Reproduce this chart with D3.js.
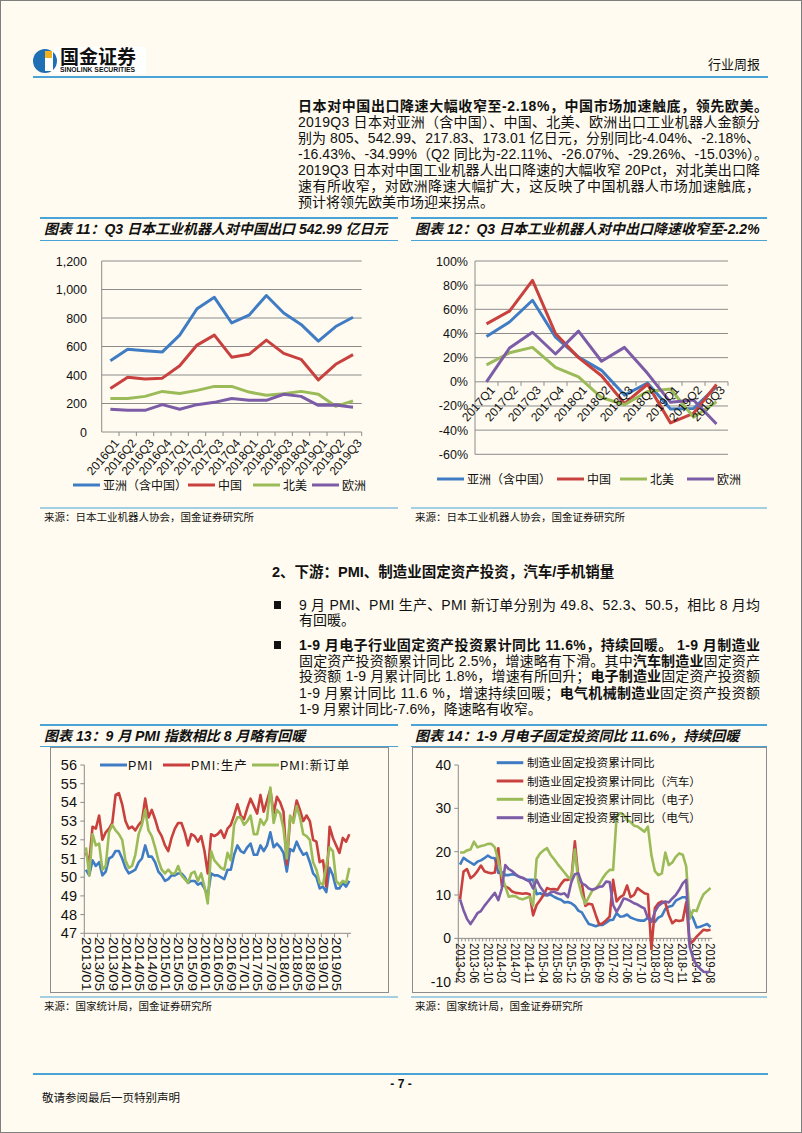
<!DOCTYPE html>
<html><head><meta charset="utf-8">
<script src="https://cdn.jsdelivr.net/npm/d3@7"></script>
<style>
body{margin:0;background:#fffbf0;}
svg{display:block;}
text{font-family:"Liberation Sans","Noto Sans CJK SC",sans-serif;fill:#111;}
.num{font-family:"Liberation Sans Narrow","Liberation Sans","Noto Sans CJK SC",sans-serif;}
</style></head><body>
<svg id="page" width="802" height="1133"></svg>
<script>
// ---------------- DATA ----------------
const quarters11 = ["2016Q1","2016Q2","2016Q3","2016Q4","2017Q1","2017Q2","2017Q3","2017Q4","2018Q1","2018Q2","2018Q3","2018Q4","2019Q1","2019Q2","2019Q3"];
const asia11   = [500,580,570,562,680,865,945,765,820,958,835,755,638,740,805];
const china11  = [305,385,372,378,465,610,680,525,545,645,552,510,365,475,543];
const na11     = [235,235,250,285,270,292,320,320,280,258,268,285,265,180,218];
const europe11 = [160,152,152,192,160,192,208,235,222,222,265,250,187,190,173];
const yTicks11 = [0,200,400,600,800,1000,1200];
const yTickLabels11 = ["0","200","400","600","800","1,000","1,200"];

const quarters12 = ["2017Q1","2017Q2","2017Q3","2017Q4","2018Q1","2018Q2","2018Q3","2018Q4","2019Q1","2019Q2","2019Q3"];
const asia12   = [37.5,49.5,67.5,37,20.5,9.5,-11,-1,-22.5,-22.1,-4.04];
const china12  = [48,58.5,84,40,20,5,-18,-2,-34,-26.07,-2.18];
const na12     = [14,24,28.5,12,4,-13,-19,-8,-6,-29.26,-16.43];
const europe12 = [0,28,41,23,42,17,28.5,7,-17,-15.03,-34.99];
const yTicks12 = [-60,-40,-20,0,20,40,60,80,100];
const yTickLabels12 = ["-60%","-40%","-20%","0%","20%","40%","60%","80%","100%"];
const legendNames = ["亚洲（含中国）","中国","北美","欧洲"];

// PMI monthly 2013/01 - 2019/09
const pmi13 = [50.4,50.1,50.9,50.6,50.8,50.1,50.3,51.0,51.1,51.4,51.4,51.0,
 50.5,50.2,50.3,50.4,50.8,51.0,51.7,51.1,51.1,50.8,50.3,50.1,
 49.8,49.9,50.1,50.1,50.2,50.2,50.0,49.7,49.8,49.8,49.6,49.7,
 49.4,49.0,50.2,50.1,50.1,50.0,49.9,50.4,50.4,51.2,51.7,51.4,
 51.3,51.6,51.8,51.2,51.2,51.7,51.4,51.7,52.4,51.6,51.8,51.6,
 51.3,50.3,51.5,51.4,51.9,51.5,51.2,51.3,50.8,50.2,50.0,49.4,
 49.5,49.2,50.5,50.1,49.4,49.4,49.7,49.5,49.8];
const prod13 = [51.3,50.8,52.7,52.6,53.3,52.0,52.4,52.6,52.9,54.4,54.5,53.9,
 53.0,52.6,52.7,52.5,52.8,53.0,54.2,53.2,53.6,53.1,52.5,52.2,
 51.7,51.4,52.1,52.6,52.9,52.9,52.4,51.7,52.3,52.2,51.9,52.2,
 51.4,50.2,52.3,52.2,52.3,52.5,52.1,52.6,52.8,53.3,53.9,53.3,
 53.1,53.7,54.2,53.8,53.4,54.4,53.5,54.1,54.7,53.4,54.3,54.0,
 53.5,50.7,53.1,53.1,54.1,53.6,53.0,53.3,53.0,52.0,51.9,50.8,
 50.9,49.5,52.7,52.1,51.7,51.3,52.1,51.9,52.3];
const order13 = [51.6,50.1,52.3,51.7,51.8,50.4,50.6,52.4,52.8,52.5,52.3,52.0,
 50.9,50.5,50.6,51.2,52.3,52.8,53.6,52.5,52.2,51.6,50.9,50.4,
 50.2,50.4,50.2,50.2,50.6,50.1,49.9,49.7,50.2,50.3,49.8,50.2,
 49.5,48.6,51.4,50.9,50.7,50.5,50.4,51.3,50.9,52.8,53.2,53.2,
 52.8,53.0,53.3,52.3,52.3,53.1,52.8,53.1,54.8,52.9,53.6,53.4,
 52.6,51.0,53.3,52.9,53.8,53.2,52.3,52.2,52.0,50.8,50.4,49.7,
 49.6,50.6,51.6,51.4,49.8,49.6,49.8,49.7,50.5];
const yTicks13 = [47,48,49,50,51,52,53,54,55,56];
const xTickLabels13 = ["2013/01","2013/05","2013/09","2014/01","2014/05","2014/09","2015/01","2015/05","2015/09","2016/01","2016/05","2016/09","2017/01","2017/05","2017/09","2018/01","2018/05","2018/09","2019/01","2019/05"];
const legend13 = ["PMI","PMI:生产","PMI:新订单"];

// Fixed-asset investment YTD yoy, 2013-02 .. 2019-08 (no January)
const mfg14 = [17.0,18.6,18.0,17.5,17.0,17.7,18.0,18.5,19.1,18.6,18.5,
 15.1,15.3,14.6,14.6,14.8,14.6,14.2,13.9,13.6,13.5,13.5,
 10.2,10.4,10.0,9.9,10.1,9.6,9.2,8.9,8.3,8.4,8.1,
 7.5,6.4,6.0,4.6,3.3,3.1,2.8,3.1,3.1,3.6,4.2,
 4.3,5.8,5.0,5.1,5.5,4.8,4.5,4.2,4.1,4.1,4.8,
 4.3,3.8,4.8,5.2,6.8,7.3,7.5,8.7,9.1,9.5,9.5,
 5.9,4.6,2.5,2.7,3.0,3.3,2.6];
const auto14 = [9.0,15.4,16.0,13.9,14.5,15.5,16.8,15.5,15.2,15.0,15.2,
 20.8,12.3,12.0,11.6,10.8,10.5,10.4,10.3,10.4,10.2,5.3,
 7.7,8.8,10.0,11.6,11.3,11.4,11.2,12.5,13.5,13.5,13.8,
 22.4,14.0,12.8,7.5,8.0,7.8,5.4,3.2,3.5,4.2,5.0,
 13.5,8.5,9.5,10.0,12.2,9.5,10.0,11.6,11.0,10.4,10.2,
 -2.5,7.0,8.1,8.5,8.2,5.4,3.5,4.2,4.0,4.2,8.3,
 -1.3,-0.6,0.4,1.2,2.0,1.8,2.0];
const elec14 = [19.8,19.8,20.3,20.5,22.3,21.0,21.3,21.5,21.8,21.8,21.0,
 18.0,14.5,12.0,9.6,9.8,9.7,9.2,9.0,9.3,9.6,7.5,
 18.3,19.6,20.3,20.8,19.3,18.3,17.2,16.2,15.2,14.2,13.5,
 20.5,13.1,10.0,8.0,9.5,11.0,11.5,12.5,13.9,15.0,15.8,
 15.8,28.1,28.9,28.5,27.3,26.9,26.0,25.8,25.2,24.6,25.8,
 19.2,15.5,14.6,15.0,19.8,16.9,17.5,18.8,19.6,19.3,16.6,
 4.5,6.5,6.3,8.5,10.2,10.9,11.6];
const elecm14 = [9.0,6.5,4.5,3.3,4.5,5.8,6.3,7.5,8.5,9.5,10.5,
 8.8,11.5,16.9,16.0,15.5,14.8,14.2,14.0,13.5,13.1,11.5,
 13.5,11.9,10.8,10.0,10.6,10.8,10.4,10.2,10.4,9.5,13.0,
 14.8,15.0,12.7,12.3,11.5,11.2,11.5,11.9,12.0,13.1,13.0,
 7.7,6.1,7.5,9.2,9.0,8.6,8.1,7.8,7.3,6.9,4.6,
 3.8,6.1,7.5,8.1,8.5,8.3,9.2,10.0,11.2,12.7,13.5,
 -1.9,-4.6,-6.2,-7.0,-7.7,-7.8,-7.6];
const yTicks14 = [-10,0,10,20,30,40];
const xTickLabels14 = ["2013-02","2013-06","2013-10","2014-03","2014-07","2014-11","2015-04","2015-08","2015-12","2016-05","2016-09","2017-02","2017-06","2017-10","2018-03","2018-07","2018-11","2019-04","2019-08"];
const legend14 = ["制造业固定投资累计同比","制造业固定投资累计同比（汽车）","制造业固定投资累计同比（电子）","制造业固定投资累计同比（电气）"];

// category builders
const months13 = [];
for (let y = 2013; y <= 2019; y++) for (let m = 1; m <= 12; m++) { if (y === 2019 && m > 9) break; months13.push(y + "/" + String(m).padStart(2,"0")); }
const months14 = [];
for (let y = 2013; y <= 2019; y++) for (let m = 2; m <= 12; m++) { if (y === 2019 && m > 8) break; months14.push(y + "-" + String(m).padStart(2,"0")); }

// ---------------- STYLE ----------------
const C = {blue:"#3f7cc4", red:"#c8413e", green:"#9bbb59", purple:"#7c5ca6", rule:"#4aa3d6", grid:"#8c8c8c", axis:"#8c8c8c"};
const colors4 = [C.blue, C.red, C.green, C.purple];

const svg = d3.select("#page");
svg.append("rect").attr("x",0.5).attr("y",0.5).attr("width",801).attr("height",1132).attr("fill","#fffbf0").attr("stroke","#7f7f7f");

// ---------------- HEADER ----------------
svg.append("rect").attr("x",54).attr("y",47).attr("width",92).attr("height",27).attr("fill","#fff");
svg.append("circle").attr("cx",45).attr("cy",61).attr("r",12).attr("fill","#1f6fb5");
svg.append("rect").attr("x",45).attr("y",51).attr("width",8).attr("height",20).attr("fill","#fff");
svg.append("rect").attr("x",45).attr("y",51).attr("width",7).attr("height",7).attr("fill","#f2b01e");
svg.append("text").attr("x",60).attr("y",64).attr("font-size",19).attr("font-weight","bold").attr("fill","#1a1a1a").text("国金证券");
svg.append("text").attr("x",60).attr("y",72).attr("font-size",6.8).attr("font-weight","bold").attr("fill","#1a1a1a").text("SINOLINK SECURITIES");
svg.append("text").attr("x",760).attr("y",69).attr("font-size",13).attr("text-anchor","end").attr("fill","#333").text("行业周报");
svg.append("line").attr("x1",33).attr("x2",768).attr("y1",77).attr("y2",77).attr("stroke",C.rule).attr("stroke-width",2);

// ---------------- TEXT HELPERS ----------------
function textLine(x, y, segs, opt) {
  opt = opt || {};
  const t = svg.append("text").attr("x",x).attr("y",y).attr("font-size",opt.size||14);
  segs.forEach(s => {
    const sp = t.append("tspan").text(s[0]);
    if (s[1]) sp.attr("font-weight","bold");
  });
  if (opt.width) t.attr("textLength",opt.width).attr("lengthAdjust","spacing");
  return t;
}

// paragraph
const pX = 298, pW = 462;
textLine(pX,111,[["日本对中国出口降速大幅收窄至-2.18%，中国市场加速触底，领先欧美。",true]],{width:470});
textLine(pX,127,[["2019Q3 日本对亚洲（含中国）、中国、北美、欧洲出口工业机器人金额分"]],{width:pW});
textLine(pX,143,[["别为 805、542.99、217.83、173.01 亿日元，分别同比-4.04%、-2.18%、"]],{width:pW});
textLine(pX,159,[["-16.43%、-34.99%（Q2 同比为-22.11%、-26.07%、-29.26%、-15.03%）。"]],{width:470});
textLine(pX,175,[["2019Q3 日本对中国工业机器人出口降速的大幅收窄 20Pct，对北美出口降"]],{width:pW});
textLine(pX,191,[["速有所收窄，对欧洲降速大幅扩大，这反映了中国机器人市场加速触底，"]],{width:pW});
textLine(pX,207,[["预计将领先欧美市场迎来拐点。"]]);

// section heading & bullets
textLine(272,577,[["2、下游：PMI、制造业固定资产投资，汽车/手机销量",true]],{size:14.5});
svg.append("rect").attr("x",274).attr("y",601).attr("width",7).attr("height",8).attr("fill","#111");
textLine(299,610,[["9 月 PMI、PMI 生产、PMI 新订单分别为 49.8、52.3、50.5，相比 8 月均"]],{width:461});
textLine(299,625,[["有回暖。"]]);
svg.append("rect").attr("x",274).attr("y",641).attr("width",7).attr("height",8).attr("fill","#111");
textLine(299,650,[["1-9 月电子行业固定资产投资累计同比 11.6%，持续回暖。 1-9 月制造业",true]],{width:461});
textLine(299,665.5,[["固定资产投资额累计同比 2.5%，增速略有下滑。其中"],["汽车制造业",true],["固定资产"]],{width:461});
textLine(299,681,[["投资额 1-9 月累计同比 1.8%，增速有所回升；"],["电子制造业",true],["固定资产投资额"]],{width:461});
textLine(299,697.5,[["1-9 月累计同比 11.6 %，增速持续回暖；"],["电气机械制造业",true],["固定资产投资额"]],{width:461});
textLine(299,714,[["1-9 月累计同比-7.6%，降速略有收窄。"]]);

// ---------------- CHART FRAMES ----------------
function titleBar(x1, x2, yTop, yBot, title) {
  svg.append("line").attr("x1",x1).attr("x2",x2).attr("y1",yTop).attr("y2",yTop).attr("stroke",C.rule).attr("stroke-width",2);
  svg.append("line").attr("x1",x1).attr("x2",x2).attr("y1",yBot).attr("y2",yBot).attr("stroke",C.rule).attr("stroke-width",1.2);
  svg.append("text").attr("x",x1+4).attr("y",yTop+16).attr("font-size",14).attr("font-weight","bold").attr("font-style","italic").text(title);
}
function source(x1, x2, y, txt) {
  svg.append("line").attr("x1",x1).attr("x2",x2).attr("y1",y).attr("y2",y).attr("stroke",C.rule).attr("stroke-width",1.2);
  svg.append("text").attr("x",x1+4).attr("y",y+13).attr("font-size",10.5).attr("fill","#333").text(txt);
}
titleBar(40,398,218,240.5,"图表 11：Q3 日本工业机器人对中国出口 542.99 亿日元");
titleBar(411,767,218,240.5,"图表 12：Q3 日本工业机器人对中出口降速收窄至-2.2%");
source(40,398,508,"来源：日本工业机器人协会，国金证券研究所");
source(411,767,508,"来源：日本工业机器人协会，国金证券研究所");
titleBar(40,398,725,746.5,"图表 13：9 月 PMI 指数相比 8 月略有回暖");
titleBar(411,767,725,746.5,"图表 14：1-9 月电子固定投资同比 11.6%，持续回暖");
source(40,398,997,"来源：国家统计局，国金证券研究所");
source(411,767,997,"来源：国家统计局，国金证券研究所");
svg.append("rect").attr("x",50.5).attr("y",747.5).attr("width",338).attr("height",245).attr("fill","none").attr("stroke","#8c8c8c");
svg.append("rect").attr("x",412.5).attr("y",747.5).attr("width",354).attr("height",245).attr("fill","none").attr("stroke","#8c8c8c");

function drawLines(g, x, y, cats, seriesList, cols, w) {
  seriesList.forEach((vals, i) => {
    const line = d3.line().x((d, j) => x(cats[j]) + x.bandwidth()/2).y(d => y(d));
    g.append("path").datum(vals).attr("d", line).attr("fill","none").attr("stroke", cols[i]).attr("stroke-width", w).attr("stroke-linejoin","round");
  });
}

// ---------------- CHART 11 ----------------
(function(){
  const g = svg.append("g");
  const x = d3.scaleBand().domain(quarters11).range([101.7, 361.7]);
  const y = d3.scaleLinear().domain([0,1200]).range([432,261]);
  yTicks11.forEach(v => { if (v>0) g.append("line").attr("x1",101.7).attr("x2",361.7).attr("y1",y(v)).attr("y2",y(v)).attr("stroke",C.grid).attr("stroke-width",1); });
  g.append("line").attr("x1",101.7).attr("x2",101.7).attr("y1",261).attr("y2",432).attr("stroke",C.axis);
  g.append("line").attr("x1",101.7).attr("x2",361.7).attr("y1",432).attr("y2",432).attr("stroke",C.axis);
  quarters11.forEach((q,i)=>{ const xx = x(q)+x.bandwidth(); g.append("line").attr("x1",xx).attr("x2",xx).attr("y1",432).attr("y2",436).attr("stroke",C.axis); });
  yTicks11.forEach((v,i) => g.append("text").attr("class","num").attr("x",87).attr("y",y(v)+4.5).attr("font-size",12.5).attr("text-anchor","end").text(yTickLabels11[i]));
  quarters11.forEach(q => {
    const cx = x(q)+x.bandwidth()/2+3, cy = 438;
    g.append("text").attr("class","num").attr("transform",`translate(${cx},${cy}) rotate(-50)`).attr("text-anchor","end").attr("dy","0.7em").attr("font-size",12).text(q);
  });
  drawLines(g, x, y, quarters11, [asia11, china11, na11, europe11], colors4, 3);
  const lx = [73,188,253,312];
  legendNames.forEach((n,i)=>{
    g.append("line").attr("x1",lx[i]).attr("x2",lx[i]+27).attr("y1",485).attr("y2",485).attr("stroke",colors4[i]).attr("stroke-width",3);
    g.append("text").attr("x",lx[i]+30).attr("y",489.5).attr("font-size",12).text(n);
  });
})();

// ---------------- CHART 12 ----------------
(function(){
  const g = svg.append("g");
  const x = d3.scaleBand().domain(quarters12).range([475, 728]);
  const y = d3.scaleLinear().domain([-60,100]).range([454.3,261]);
  yTicks12.forEach(v => { g.append("line").attr("x1",475).attr("x2",728).attr("y1",y(v)).attr("y2",y(v)).attr("stroke",C.grid).attr("stroke-width",1); });
  g.append("line").attr("x1",475).attr("x2",475).attr("y1",261).attr("y2",454.3).attr("stroke",C.axis);
  quarters12.forEach(q=>{ const xx = x(q)+x.bandwidth(); g.append("line").attr("x1",xx).attr("x2",xx).attr("y1",y(0)).attr("y2",y(0)+4).attr("stroke",C.axis); });
  yTicks12.forEach((v,i) => g.append("text").attr("class","num").attr("x",468).attr("y",y(v)+4.5).attr("font-size",12.5).attr("text-anchor","end").text(yTickLabels12[i]));
  drawLines(g, x, y, quarters12, [asia12, china12, na12, europe12], colors4, 3);
  quarters12.forEach(q => {
    const cx = x(q)+x.bandwidth()/2+3, cy = y(0)+3;
    g.append("text").attr("class","num").attr("transform",`translate(${cx},${cy}) rotate(-48)`).attr("text-anchor","end").attr("dy","0.7em").attr("font-size",12).text(q);
  });
  const lx = [437,557,620,687];
  legendNames.forEach((n,i)=>{
    g.append("line").attr("x1",lx[i]).attr("x2",lx[i]+27).attr("y1",479).attr("y2",479).attr("stroke",colors4[i]).attr("stroke-width",3);
    g.append("text").attr("x",lx[i]+30).attr("y",483.5).attr("font-size",12).text(n);
  });
})();

// ---------------- CHART 13 ----------------
(function(){
  const g = svg.append("g");
  const x = d3.scaleBand().domain(months13).range([84.3, 351]);
  const y = d3.scaleLinear().domain([47,56]).range([933.3,765]);
  g.append("line").attr("x1",84.3).attr("x2",84.3).attr("y1",765).attr("y2",933.3).attr("stroke",C.axis);
  g.append("line").attr("x1",84.3).attr("x2",351).attr("y1",933.3).attr("y2",933.3).attr("stroke",C.axis);
  yTicks13.forEach(v => {
    g.append("line").attr("x1",80.3).attr("x2",84.3).attr("y1",y(v)).attr("y2",y(v)).attr("stroke",C.axis);
    g.append("text").attr("class","num").attr("x",77).attr("y",y(v)+5).attr("font-size",14.5).attr("text-anchor","end").text(v);
  });
  months13.forEach((m,i)=>{ if (i%4===0) { const xx = x(m); g.append("line").attr("x1",xx).attr("x2",xx).attr("y1",933.3).attr("y2",937.3).attr("stroke",C.axis);} });
  xTickLabels13.forEach(l => {
    const cx = x(l)+x.bandwidth()/2+1, cy = 937;
    g.append("text").attr("class","num").attr("transform",`translate(${cx},${cy}) rotate(90)`).attr("dy","0.35em").attr("font-size",13.5).attr("textLength",54).attr("lengthAdjust","spacingAndGlyphs").text(l);
  });
  drawLines(g, x, y, months13, [pmi13, prod13, order13], [C.blue, C.red, C.green], 2.6);
  const lx = [100,163,252];
  legend13.forEach((n,i)=>{
    g.append("line").attr("x1",lx[i]).attr("x2",lx[i]+27).attr("y1",765).attr("y2",765).attr("stroke",[C.blue,C.red,C.green][i]).attr("stroke-width",3);
    g.append("text").attr("x",lx[i]+28).attr("y",769.5).attr("font-size",12.5).attr("letter-spacing",1).text(n);
  });
})();

// ---------------- CHART 14 ----------------
(function(){
  const g = svg.append("g");
  const x = d3.scaleBand().domain(months14).range([458.3, 712.3]);
  const y = d3.scaleLinear().domain([-10,40]).range([981.7,765]);
  g.append("line").attr("x1",458.3).attr("x2",458.3).attr("y1",765).attr("y2",981.7).attr("stroke",C.axis);
  g.append("line").attr("x1",458.3).attr("x2",712.3).attr("y1",y(0)).attr("y2",y(0)).attr("stroke",C.axis);
  yTicks14.forEach(v => {
    g.append("line").attr("x1",454.3).attr("x2",458.3).attr("y1",y(v)).attr("y2",y(v)).attr("stroke",C.axis);
    g.append("text").attr("class","num").attr("x",451).attr("y",y(v)+5).attr("font-size",14).attr("text-anchor","end").text(v);
  });
  months14.forEach(m=>{ const xx = x(m); g.append("line").attr("x1",xx).attr("x2",xx).attr("y1",y(0)).attr("y2",y(0)+3).attr("stroke",C.axis); });
  xTickLabels14.forEach(l => {
    const cx = x(l)+x.bandwidth()/2, cy = y(0)+5;
    g.append("text").attr("class","num").attr("transform",`translate(${cx},${cy}) rotate(90)`).attr("dy","0.35em").attr("font-size",12.5).attr("textLength",40).attr("lengthAdjust","spacingAndGlyphs").text(l);
  });
  drawLines(g, x, y, months14, [mfg14, auto14, elec14, elecm14], colors4, 2.6);
  const ly = [762.7,781,799.3,817.7];
  legend14.forEach((n,i)=>{
    g.append("line").attr("x1",496.7).attr("x2",523.3).attr("y1",ly[i]).attr("y2",ly[i]).attr("stroke",colors4[i]).attr("stroke-width",3);
    g.append("text").attr("x",527).attr("y",ly[i]+4.5).attr("font-size",11.6).text(n);
  });
})();

// ---------------- FOOTER ----------------
svg.append("line").attr("x1",33).attr("x2",768).attr("y1",1074).attr("y2",1074).attr("stroke",C.rule).attr("stroke-width",2);
svg.append("text").attr("x",401).attr("y",1088).attr("font-size",12).attr("font-weight","bold").attr("text-anchor","middle").text("- 7 -");
svg.append("text").attr("x",42).attr("y",1102).attr("font-size",11.5).attr("fill","#222").text("敬请参阅最后一页特别声明");
</script>
</body></html>
